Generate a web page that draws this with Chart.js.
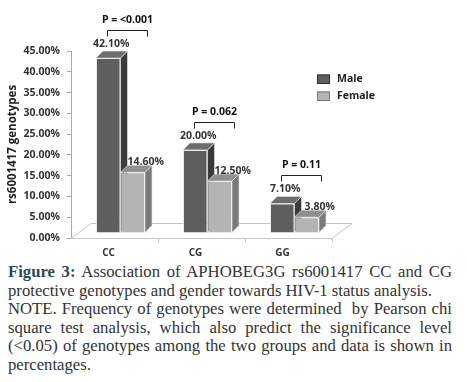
<!DOCTYPE html>
<html><head><meta charset="utf-8">
<script src="https://cdn.jsdelivr.net/npm/chart.js@4"></script>
<style>
body{margin:0;background:#fff;width:467px;height:382px;overflow:hidden;position:relative}
#c{position:absolute;left:0;top:0}
#cap{position:absolute;left:8px;top:263px;width:444px;font-family:'Liberation Serif',serif;font-size:16.7px;line-height:18.6px;color:#333}
.j{text-align:justify;text-align-last:justify}
.fig{font-weight:bold;color:#2b4a55}
</style></head><body>
<canvas id="c" width="467" height="262"></canvas>
<div id="cap">
<div class="j"><span class="fig">Figure 3:</span> Association of APHOBEG3G rs6001417 CC and CG</div>
<div>protective genotypes and gender towards HIV-1 status analysis.</div>
<div class="j">NOTE. Frequency of genotypes were determined &nbsp;by Pearson chi</div>
<div class="j">square test analysis, which also predict the significance level</div>
<div class="j">(&lt;0.05) of genotypes among the two groups and data is shown in</div>
<div>percentages.</div>
</div>
<script>
const categories = ['CC', 'CG', 'GG'];
const seriesNames = ['Male', 'Female'];
const male = [42.1, 20.0, 7.1];
const female = [14.6, 12.5, 3.8];
const pValues = ['P = <0.001', 'P = 0.062', 'P = 0.11'];
const yTickMax = 45, yTickStep = 5;

const FONT = "'Open Sans', sans-serif";
const D = 7, SHIFT_X = 6, SHIFT_Y = -5;
const styles = [
  {front:'#5e5e5e', side:'#3a3a3a', top:'#6c6c6c', dx:3, dy:-14},
  {front:'#b4b4b4', side:'#7a7a7a', top:'#8f8f8f', dx:13, dy:-10}
];

const threeD = {
  id:'threeD',
  beforeDatasetsDraw(chart){
    const {ctx, chartArea:a, scales:{x}} = chart;
    ctx.save();
    ctx.strokeStyle='#c4c4c4'; ctx.lineWidth=1;
    ctx.beginPath();
    ctx.moveTo(a.left, a.bottom+0.5); ctx.lineTo(a.right, a.bottom+0.5);
    ctx.lineTo(a.right+20, a.bottom-14.5); ctx.lineTo(a.left+20, a.bottom-14.5);
    ctx.lineTo(a.left, a.bottom+0.5);
    ctx.stroke();
    const n = categories.length;
    for(let i=1;i<=n;i++){
      const xb = Math.round(x.left + i*(x.width/n))+0.5;
      ctx.beginPath(); ctx.moveTo(xb, a.bottom); ctx.lineTo(xb, a.bottom+4); ctx.stroke();
    }
    ctx.restore();
    ctx.save();
    ctx.translate(SHIFT_X, SHIFT_Y);
    chart.data.datasets.forEach((ds, i) => {
      const st = styles[i];
      chart.getDatasetMeta(i).data.forEach(bar => {
        const {x:cx, y, base, width} = bar.getProps(['x','y','base','width'], true);
        const l = cx - width/2, r = cx + width/2;
        ctx.fillStyle = st.side; ctx.strokeStyle = 'rgba(230,230,230,0.8)'; ctx.lineWidth = 0.8;
        ctx.beginPath(); ctx.moveTo(r,y); ctx.lineTo(r+D,y-D); ctx.lineTo(r+D,base-D); ctx.lineTo(r,base); ctx.closePath(); ctx.fill(); ctx.stroke();
        ctx.fillStyle = st.top;
        ctx.beginPath(); ctx.moveTo(l,y); ctx.lineTo(l+D,y-D); ctx.lineTo(r+D,y-D); ctx.lineTo(r,y); ctx.closePath(); ctx.fill(); ctx.stroke();
      });
    });
  },
  afterDatasetsDraw(chart){
    const {ctx} = chart;
    ctx.font = "bold 10.5px " + FONT;
    ctx.fillStyle = '#333'; ctx.textAlign = 'center'; ctx.textBaseline = 'middle';
    chart.data.datasets.forEach((ds, i) => {
      const st = styles[i];
      chart.getDatasetMeta(i).data.forEach((bar, j) => {
        ctx.fillText(ds.data[j].toFixed(2) + '%', bar.x + st.dx, bar.y + st.dy);
      });
    });
    ctx.strokeStyle = '#222'; ctx.lineWidth = 1; ctx.fillStyle = '#111';
    categories.forEach((c, j) => {
      const m0 = chart.getDatasetMeta(0).data[j], m1 = chart.getDatasetMeta(1).data[j];
      const cx = (m0.x + m1.x)/2 + 7;
      const top = Math.min(m0.y, m1.y);
      const by = Math.round(top - 28) + 0.5;
      ctx.beginPath();
      ctx.moveTo(cx-20, by+6); ctx.lineTo(cx-20, by); ctx.lineTo(cx+20, by); ctx.lineTo(cx+20, by+6);
      ctx.stroke();
      ctx.fillText(pValues[j], cx, by - 10);
    });
    ctx.restore();
  },
  afterDraw(chart){
    const {ctx} = chart;
    ctx.save();
    ctx.font = "bold 10.5px " + FONT; ctx.textAlign='left'; ctx.textBaseline='middle';
    chart.data.datasets.forEach((ds, i) => {
      const yy = 79 + i*17;
      ctx.fillStyle = styles[i].front; ctx.strokeStyle = i ? '#777' : '#333'; ctx.lineWidth = 1;
      ctx.fillRect(317, yy-4.5, 13, 9); ctx.strokeRect(317.5, yy-4, 12, 8.5);
      ctx.fillStyle = '#222';
      ctx.fillText(ds.label, 337, yy);
    });
    ctx.restore();
  }
};

new Chart(document.getElementById('c'), {
  type:'bar',
  data:{
    labels: categories,
    datasets:[
      {label: seriesNames[0], data: male, backgroundColor: styles[0].front, borderColor:'rgba(225,225,225,0.7)', borderWidth:1, clip:false},
      {label: seriesNames[1], data: female, backgroundColor: styles[1].front, borderColor:'rgba(235,235,235,0.8)', borderWidth:1, clip:false}
    ]
  },
  options:{
    responsive:false, animation:false,
    layout:{padding:{left:0, right:135, top:51, bottom:0}},
    categoryPercentage:0.563, barPercentage:1,
    plugins:{legend:{display:false}, tooltip:{enabled:false}},
    scales:{
      x:{
        grid:{display:false, drawTicks:false}, border:{display:false},
        ticks:{font:{family:FONT, size:10, weight:'bold'}, color:'#333', padding:9, labelOffset:-6},
        afterFit(s){ s.height = 24; }
      },
      y:{
        min:0, max:yTickMax,
        ticks:{stepSize:yTickStep, callback:v => v.toFixed(2)+'%', font:{family:FONT, size:10.5, weight:'bold'}, color:'#333', padding:7},
        grid:{drawOnChartArea:false, tickLength:4, color:'#a8a8a8'},
        border:{color:'#a8a8a8'},
        title:{display:true, text:'rs6001417 genotypes', font:{family:FONT, size:11.5, weight:'bold'}, color:'#222', padding:{top:6, bottom:0}},
        afterFit(s){ s.width = 71; }
      }
    }
  },
  plugins:[threeD]
});
</script>
</body></html>
